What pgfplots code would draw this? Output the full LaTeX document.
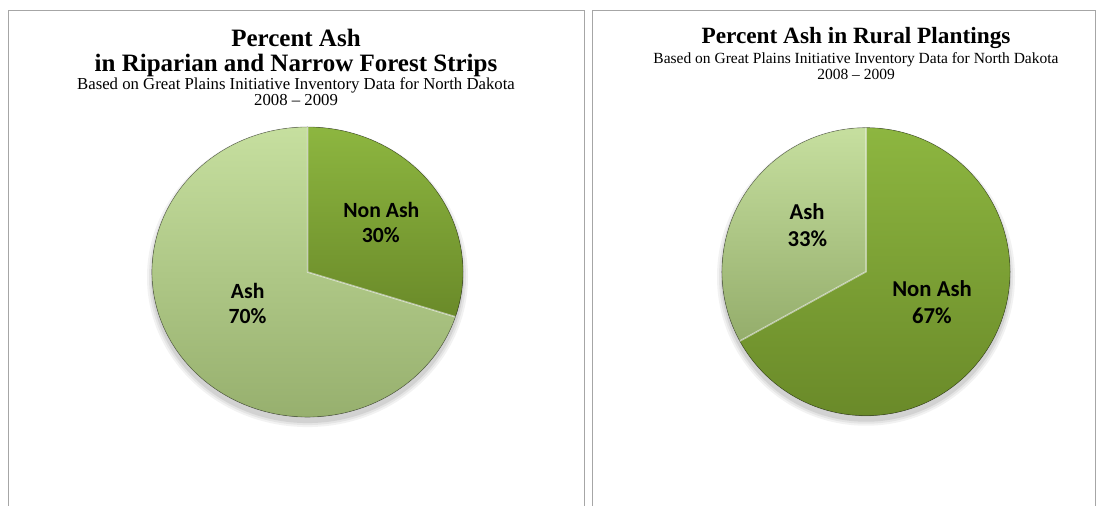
\documentclass[border=0pt]{standalone}
\usepackage{fontspec}
\setmainfont{Liberation Serif}
\newfontfamily\calibri{Carlito}
\usepackage{pgfplots}
\usepackage{pgfplotstable}
\pgfplotsset{compat=1.18}

\definecolor{ashtop}{HTML}{C6DF9F}
\definecolor{ashbot}{HTML}{94AD6B}
\definecolor{nontop}{HTML}{8DB640}
\definecolor{nonbot}{HTML}{6A8A29}
\definecolor{frame}{HTML}{A6A6A6}

% share of each kind of tree, in percent (first row is drawn clockwise from 12 o'clock)
\pgfplotstableread[col sep=comma]{
label,value
Non Ash,30
Ash,70
}\riparian
\pgfplotstableread[col sep=comma]{
label,value
Non Ash,67
Ash,33
}\rural

% #1 table, #2 #3 centre, #4 #5 radii (pt)
\newcommand\pieaxis[5]{%
  \pgfplotstablegetelem{0}{value}\of#1%
  \pgfmathsetmacro\cut{90-3.6*\pgfplotsretval}%
  \begin{axis}[hide axis, x=#4pt, y=#5pt,
      xmin=-1, xmax=1, ymin=-1, ymax=1,
      anchor=origin, at={(#2pt,#3pt)}, clip=false]
    \fill[black, opacity=0.05] (axis cs:0,-0.035) ellipse [x radius=#4pt+5pt, y radius=#5pt+5pt];
    \fill[black, opacity=0.06] (axis cs:0,-0.035) ellipse [x radius=#4pt+3pt, y radius=#5pt+3pt];
    \fill[black, opacity=0.08] (axis cs:0,-0.035) ellipse [x radius=#4pt+1pt, y radius=#5pt+1pt];
    \fill[top color=nontop, bottom color=nonbot] (axis cs:0,0) -- (axis cs:0,1)
      arc[start angle=90, end angle=\cut, x radius=#4pt, y radius=#5pt] -- cycle;
    \fill[top color=ashtop, bottom color=ashbot] (axis cs:0,0) -- (axis cs:{cos(\cut)},{sin(\cut)})
      arc[start angle=\cut, end angle=-270, x radius=#4pt, y radius=#5pt] -- cycle;
    \draw[black, opacity=0.25, line width=0.8pt] (axis cs:0,0) ellipse [x radius=#4pt, y radius=#5pt];
    \draw[white, opacity=0.55, line width=1.5pt] (axis cs:0,1) -- (axis cs:0,0) -- (axis cs:{cos(\cut)},{sin(\cut)});
  \end{axis}}

\begin{document}
\begin{tikzpicture}
\useasboundingbox (0,0) rectangle (1106pt,506pt);
\draw[frame, line width=1pt] (8.5pt,-5pt) -- (8.5pt,495.5pt) -- (584.5pt,495.5pt) -- (584.5pt,-5pt);
\draw[frame, line width=1pt] (592.5pt,-5pt) -- (592.5pt,495.5pt) -- (1095.5pt,495.5pt) -- (1095.5pt,-5pt);

% left panel titles
\node[anchor=base, inner sep=0pt, font=\bfseries\fontsize{25}{25}\selectfont] at (296pt,459pt) {Percent Ash};
\node[anchor=base, inner sep=0pt, font=\bfseries\fontsize{25}{25}\selectfont] at (296pt,434pt) {in Riparian and Narrow Forest Strips};
\node[anchor=base, inner sep=0pt, font=\fontsize{16.75}{17}\selectfont] at (296pt,416pt) {Based on Great Plains Initiative Inventory Data for North Dakota};
\node[anchor=base, inner sep=0pt, font=\fontsize{16.75}{17}\selectfont] at (296pt,400pt) {2008 -- 2009};

% right panel titles
\node[anchor=base, inner sep=0pt, font=\bfseries\fontsize{23.3}{23.3}\selectfont] at (856pt,462pt) {Percent Ash in Rural Plantings};
\node[anchor=base, inner sep=0pt, font=\fontsize{15.5}{16}\selectfont] at (856pt,442pt) {Based on Great Plains Initiative Inventory Data for North Dakota};
\node[anchor=base, inner sep=0pt, font=\fontsize{15.5}{16}\selectfont] at (856pt,426pt) {2008 -- 2009};

\pieaxis{\riparian}{307.5}{234}{155.5}{145}
\pieaxis{\rural}{866}{234.3}{144}{144}

% slice labels
\begin{scope}[every node/.style={anchor=base, inner sep=0pt, text=black}]
\node[font=\calibri\bfseries\fontsize{21.7}{22}\selectfont] at (381.3pt,288.7pt) {Non Ash};
\node[font=\calibri\bfseries\fontsize{21.7}{22}\selectfont] at (380.7pt,263.7pt) {30\%};
\node[font=\calibri\bfseries\fontsize{21.7}{22}\selectfont] at (247.7pt,207pt) {Ash};
\node[font=\calibri\bfseries\fontsize{21.7}{22}\selectfont] at (247.5pt,182.7pt) {70\%};
\node[font=\calibri\bfseries\fontsize{22.7}{23}\selectfont] at (807pt,286pt) {Ash};
\node[font=\calibri\bfseries\fontsize{22.7}{23}\selectfont] at (807.5pt,259.3pt) {33\%};
\node[font=\calibri\bfseries\fontsize{22.7}{23}\selectfont] at (932pt,209.3pt) {Non Ash};
\node[font=\calibri\bfseries\fontsize{22.7}{23}\selectfont] at (932pt,182.7pt) {67\%};
\end{scope}
\end{tikzpicture}
\end{document}
